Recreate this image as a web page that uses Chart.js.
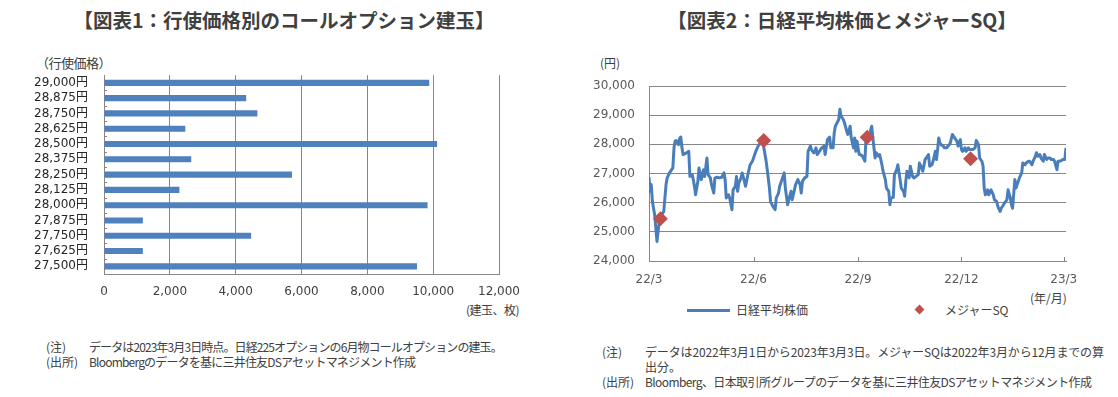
<!DOCTYPE html>
<html><head><meta charset="utf-8">
<script src="https://cdn.jsdelivr.net/npm/chart.js@4.4.1/dist/chart.umd.min.js"></script>
<style>
body{margin:0;background:#fff;width:1118px;height:397px;overflow:hidden;position:relative;font-family:"Noto Sans CJK JP","Noto Sans",sans-serif;color:#404040}
.abs{position:absolute;white-space:nowrap;line-height:1}
.title{font-size:19.5px;font-weight:bold;color:#404040}
.note{font-size:12px;color:#404040}
.unit{font-size:12px;color:#404040}
.cv{position:absolute}
</style></head>
<body>
<div class="abs title" style="left:0;width:568px;text-align:center;top:10px">【図表1：行使価格別のコールオプション建玉】</div>
<div class="abs title" style="left:560px;width:564px;text-align:center;top:10px">【図表2：日経平均株価とメジャーSQ】</div>

<div class="abs unit" style="left:36px;top:56px;font-size:13px;letter-spacing:-0.5px">（行使価格）</div>
<div class="abs unit" style="left:600px;top:57px">(円)</div>
<div class="abs unit" style="left:466px;top:304px;letter-spacing:-0.5px">(建玉、枚)</div>
<div class="abs unit" style="left:1030px;top:292px">(年/月)</div>

<div class="cv" style="left:0;top:52px"><canvas id="c1" width="560" height="252"></canvas></div>
<div class="cv" style="left:560px;top:60px"><canvas id="c2" width="558" height="231"></canvas></div>

<div class="abs" style="left:687px;top:309px;width:43px;height:3px;background:#4a7ebb"></div>
<div class="abs note" style="left:736px;top:304px">日経平均株価</div>
<div class="abs" style="left:916px;top:306px;width:7px;height:7px;background:#c0504d;transform:rotate(45deg)"></div>
<div class="abs note" style="left:945px;top:304px">メジャーSQ</div>

<div class="abs note" style="left:46px;top:341px">(注)</div>
<div class="abs note" style="left:89px;top:341px;letter-spacing:-0.9px">データは2023年3月3日時点。日経225オプションの6月物コールオプションの建玉。</div>
<div class="abs note" style="left:46px;top:356px">(出所)</div>
<div class="abs note" style="left:89px;top:356px;letter-spacing:-0.8px">Bloombergのデータを基に三井住友DSアセットマネジメント作成</div>

<div class="abs note" style="left:602px;top:346px">(注)</div>
<div class="abs note" style="left:645px;top:346px;letter-spacing:-0.15px">データは2022年3月1日から2023年3月3日。メジャーSQは2022年3月から12月までの算</div>
<div class="abs note" style="left:645px;top:361px">出分。</div>
<div class="abs note" style="left:602px;top:376px">(出所)</div>
<div class="abs note" style="left:645px;top:376px;letter-spacing:-0.6px">Bloomberg、日本取引所グループのデータを基に三井住友DSアセットマネジメント作成</div>

<script>
// ---- Chart 1 data ----
const strikes = [29000,28875,28750,28625,28500,28375,28250,28125,28000,27875,27750,27625,27500];
const openInterest = [9880,4320,4660,2470,10120,2650,5710,2290,9830,1180,4470,1180,9510];
const oiTicks = [0,2000,4000,6000,8000,10000,12000];

// ---- Chart 2 data (days since 2022-03-01) ----
const nikkeiDays = [0,1,2,3,5,7,9,11,13,15,16,18,21,22,23,24,26,27,28,29,30,33,35,36,38,39,40,41,43,44,46,48,49,51,52,54,55,57,58,60,62,64,66,67,68,70,71,73,74,76,77,78,79,81,82,84,85,87,89,91,92,94,96,98,100,101,103,104,106,107,109,111,112,114,115,117,119,120,122,123,125,126,128,129,131,133,134,135,137,139,140,142,143,145,146,147,148,150,152,154,155,157,159,160,162,163,164,167,168,169,171,172,174,175,177,178,180,181,182,183,185,186,188,190,191,192,193,194,196,197,199,200,202,203,205,206,208,209,211,212,213,215,216,218,219,221,222,224,225,226,227,229,230,232,233,235,237,238,240,241,243,244,246,247,249,250,252,253,254,255,256,257,259,260,262,263,265,267,269,271,272,274,275,276,278,279,281,282,284,285,287,288,290,291,293,294,295,296,298,299,301,303,304,306,307,309,310,312,313,315,316,318,319,320,322,323,325,326,328,329,331,332,334,335,337,338,340,341,342,344,345,347,348,350,351,353,354,356,357,359,360,361,363,364,366,367];
const nikkeiValues = [26870,26390,26620,26040,25580,24670,25350,25580,25700,26620,26850,27020,27190,27880,28110,28130,27990,28200,28250,27880,27650,27710,27760,26900,26960,26790,26560,26270,26730,27190,26790,27130,26900,27530,26960,26850,26620,26330,26850,26870,26850,26870,27020,26790,26160,26270,26160,25760,26440,26560,26900,26390,26670,26850,27020,26730,26560,26960,27300,27420,27530,27760,27940,28050,28150,27900,27450,27150,26500,26040,25870,25760,26160,26330,26560,26790,27020,26500,25930,26100,26390,26100,26440,26620,26790,26620,26330,26730,26850,26900,27760,27940,27820,27710,27760,27880,27650,27760,27880,27940,27650,28160,28250,27880,27880,28390,28620,28850,29200,28970,28850,28740,28450,28340,28620,28220,27880,28220,27760,28110,27650,27650,27590,27420,28220,28280,28110,28340,28620,28220,27530,27710,27590,27650,27300,27080,26790,26500,26390,25930,26160,26180,26960,27130,27300,26790,26500,26390,26220,26730,27080,26850,27250,26900,26850,26900,26960,27360,27190,27080,27480,27530,27650,27250,27300,27420,27760,27480,27820,28220,28050,27990,27940,27880,27880,27940,28020,28340,28220,28110,27940,28160,27820,27760,27880,27760,27880,27820,27820,27820,27880,28130,27990,27530,27420,27250,26500,26270,26440,26270,26440,26270,26100,26040,25870,25700,25810,25930,25990,26100,26440,26160,25930,25810,26790,26500,26730,26850,27020,27360,27300,27360,27420,27420,27300,27420,27590,27710,27590,27650,27530,27420,27650,27480,27530,27530,27480,27480,27420,27130,27420,27420,27440,27480,27480,27880];
const sqDays = [10,101,192,283];
const sqValues = [25450,28130,28240,27510];
const dateTickDays = [0,92,184,275,365];
const dateTickLabels = ['22/3','22/6','22/9','22/12','23/3'];
const priceTicks = [24000,25000,26000,27000,28000,29000,30000];

const fmt = v => Number(v).toLocaleString('en-US');
const GRID = '#868686';
const TICKFONT = {family:'"DejaVu Sans","Noto Sans CJK JP",sans-serif', size:12};

const innerTicks = {
  id:'innerTicks',
  afterDraw(chart, args, opts){
    const ctx = chart.ctx, a = chart.chartArea;
    ctx.save(); ctx.strokeStyle = GRID; ctx.lineWidth = 1;
    if (opts.axis === 'x') {
      const s = chart.scales.x;
      s.ticks.forEach(t => {
        const px = Math.round(s.getPixelForValue(t.value)) + 0.5;
        ctx.beginPath(); ctx.moveTo(px, a.bottom); ctx.lineTo(px, a.bottom - opts.len); ctx.stroke();
      });
    } else if (opts.axis === 'y') {
      const n = chart.scales.y.ticks.length;
      for (let i = 1; i <= n; i++) {
        const py = Math.round(a.top + i * a.height / n) + 0.5;
        ctx.beginPath(); ctx.moveTo(a.left, py); ctx.lineTo(a.left + opts.len, py); ctx.stroke();
      }
    }
    ctx.restore();
  }
};

new Chart(document.getElementById('c1'), {
  type:'bar',
  data:{
    labels: strikes.map(s => fmt(s) + '円'),
    datasets:[{data: openInterest, backgroundColor:'#4f81bd', borderWidth:0, barPercentage:0.4, categoryPercentage:1}]
  },
  plugins:[innerTicks],
  options:{
    indexAxis:'y', responsive:false, animation:false,
    layout:{padding:{top:15,right:61,left:0,bottom:0}},
    plugins:{legend:{display:false}, tooltip:{enabled:false}, innerTicks:{axis:'y', len:3}},
    scales:{
      x:{min:0,max:12000,
        afterBuildTicks: s => { s.ticks = oiTicks.map(v => ({value:v})); },
        afterFit: s => { s.height = 30; },
        grid:{color:GRID, drawTicks:false, lineWidth:1},
        border:{display:true, color:GRID},
        ticks:{font:TICKFONT, color:'#404040', padding:11, maxRotation:0, callback: v => fmt(v)}
      },
      y:{
        afterFit: s => { s.width = 104; },
        grid:{display:false, drawTicks:false},
        border:{display:true, color:GRID},
        ticks:{font:TICKFONT, color:'#262626', padding:16, autoSkip:false}
      }
    }
  }
});

new Chart(document.getElementById('c2'), {
  type:'line',
  data:{
    datasets:[
      {label:'メジャーSQ', type:'scatter', order:1, data: sqDays.map((d,i)=>({x:d,y:sqValues[i]})),
       pointStyle:'rectRot', pointRadius:7.5, backgroundColor:'#c0504d', borderColor:'#c0504d', borderWidth:0, showLine:false},
      {label:'日経平均株価', order:2, data: nikkeiDays.map((d,i)=>({x:d,y:nikkeiValues[i]})),
       borderColor:'#4a7ebb', borderWidth:3, pointRadius:0, tension:0, fill:false, borderJoinStyle:'round'}
    ]
  },
  plugins:[innerTicks],
  options:{
    responsive:false, animation:false,
    layout:{padding:{top:26,right:52,left:0,bottom:0}},
    plugins:{legend:{display:false}, tooltip:{enabled:false}, innerTicks:{axis:'x', len:4}},
    scales:{
      x:{type:'linear', min:0, max:367,
        afterBuildTicks: s => { s.ticks = dateTickDays.map(v => ({value:v})); },
        afterFit: s => { s.height = 30; },
        grid:{display:false, drawTicks:false},
        border:{display:true, color:GRID},
        ticks:{font:TICKFONT, color:'#595959', padding:12, maxRotation:0,
          callback: v => dateTickLabels[dateTickDays.indexOf(v)]}
      },
      y:{min:24000, max:30000,
        afterBuildTicks: s => { s.ticks = priceTicks.map(v => ({value:v})); },
        afterFit: s => { s.width = 89; },
        grid:{color:GRID, drawTicks:false, lineWidth:1},
        border:{display:true, color:GRID},
        ticks:{font:TICKFONT, color:'#595959', padding:14, callback: v => fmt(v)}
      }
    }
  }
});
</script>
</body></html>
